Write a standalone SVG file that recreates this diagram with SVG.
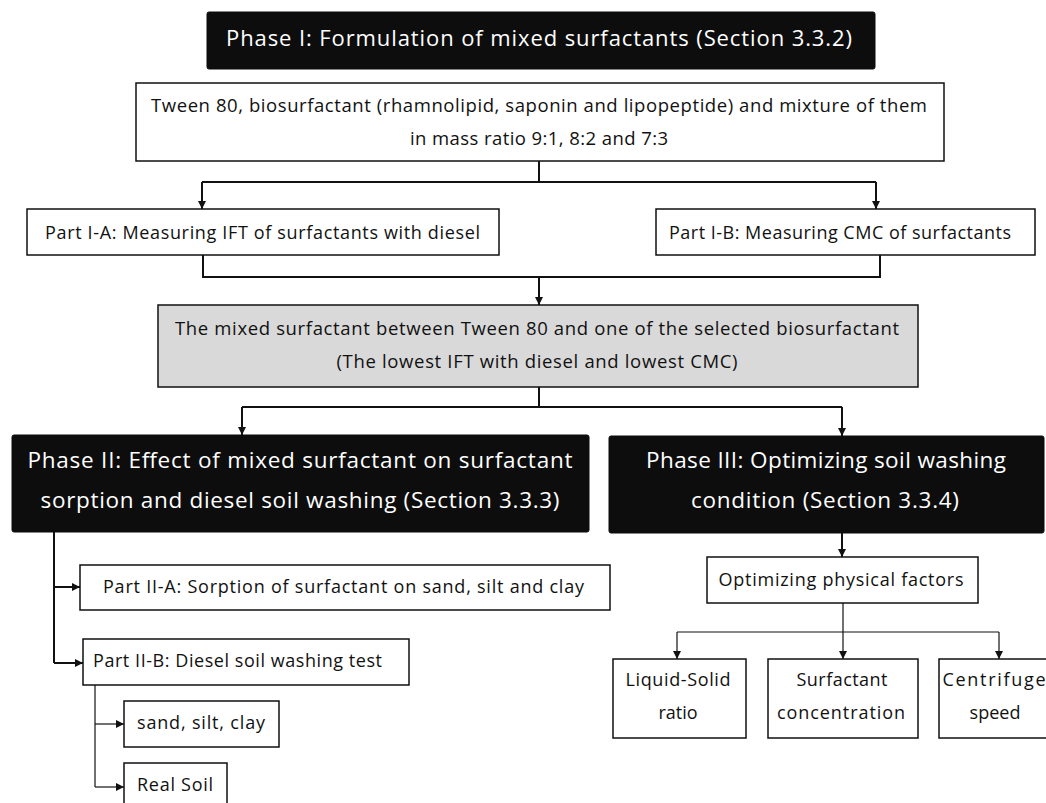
<svg xmlns="http://www.w3.org/2000/svg" width="1046" height="803" viewBox="0 0 1046 803">
<style>
text{font-family:"Open Sans","DejaVu Sans",sans-serif;fill:#111;text-anchor:middle}
.w{fill:#fff}
.box{fill:#fff;stroke:#111;stroke-width:1.5}
.dark{fill:#0d0d0d;stroke:#0d0d0d;stroke-width:1}
.grey{fill:#d9d9d9;stroke:#111;stroke-width:1.5}
.c{fill:none;stroke:#111;stroke-width:2}
.t{fill:none;stroke:#111;stroke-width:1.2}
.s{text-anchor:start}
</style>
<defs>
<marker id="ah" markerUnits="userSpaceOnUse" markerWidth="9" markerHeight="9" refX="8" refY="4" orient="auto"><path d="M0,0 L8,4 L0,8 z" fill="#111"/></marker>
</defs>
<rect width="1046" height="803" fill="#fff"/>
<g id="phase1">
<rect class="dark" x="207" y="12" width="668" height="57" rx="2"/>
<text class="w" x="539" y="46" font-size="22" textLength="626">Phase I: Formulation of mixed surfactants (Section 3.3.2)</text>
</g>
<g id="materials">
<rect class="box" x="136" y="83" width="808" height="78"/>
<text x="539" y="112" font-size="18.5" textLength="776">Tween 80, biosurfactant (rhamnolipid, saponin and lipopeptide) and mixture of them</text>
<text x="539" y="145" font-size="18.5" textLength="258">in mass ratio 9:1, 8:2 and 7:3</text>
</g>
<g id="partIA">
<rect class="box" x="27" y="209" width="472" height="46"/>
<text x="262.5" y="239" font-size="18" textLength="435">Part I-A: Measuring IFT of surfactants with diesel</text>
</g>
<g id="partIB">
<rect class="box" x="656" y="209" width="379" height="46"/>
<text x="840" y="239" font-size="18" textLength="342">Part I-B: Measuring CMC of surfactants</text>
</g>
<g id="mixed">
<rect class="grey" x="158" y="305" width="760" height="82"/>
<text x="537" y="335" font-size="18.5" textLength="724">The mixed surfactant between Tween 80 and one of the selected biosurfactant</text>
<text x="537" y="368" font-size="18.5" textLength="401">(The lowest IFT with diesel and lowest CMC)</text>
</g>
<g id="phase2">
<rect class="dark" x="12" y="435" width="577" height="97" rx="2"/>
<text class="w" x="300" y="468" font-size="22.5" textLength="545">Phase II: Effect of mixed surfactant on surfactant</text>
<text class="w" x="300" y="508" font-size="22.5" textLength="519">sorption and diesel soil washing (Section 3.3.3)</text>
</g>
<g id="phase3">
<rect class="dark" x="609" y="436" width="435" height="97" rx="2"/>
<text class="w" x="826" y="468" font-size="22.5" textLength="360">Phase III: Optimizing soil washing</text>
<text class="w" x="825" y="508" font-size="22.5" textLength="268">condition (Section 3.3.4)</text>
</g>
<g id="partIIA">
<rect class="box" x="80" y="565" width="530" height="45"/>
<text x="343.5" y="593" font-size="18" textLength="481">Part II-A: Sorption of surfactant on sand, silt and clay</text>
</g>
<g id="partIIB">
<rect class="box" x="83" y="639" width="326" height="46"/>
<text class="s" x="93" y="667" font-size="18" textLength="289">Part II-B: Diesel soil washing test</text>
</g>
<g id="sandsiltclay">
<rect class="box" x="124" y="701" width="155" height="46"/>
<text x="201" y="729" font-size="18" textLength="128">sand, silt, clay</text>
</g>
<g id="realsoil">
<rect class="box" x="124" y="763" width="103" height="50"/>
<text x="175" y="791" font-size="18" textLength="76">Real Soil</text>
</g>
<g id="physical">
<rect class="box" x="707" y="557" width="271" height="46"/>
<text x="841" y="586" font-size="18" textLength="245">Optimizing physical factors</text>
</g>
<g id="liquidsolid">
<rect class="box" x="613" y="659" width="133" height="79"/>
<text x="678" y="686" font-size="18" textLength="105">Liquid-Solid</text>
<text x="678" y="719" font-size="18">ratio</text>
</g>
<g id="concentration">
<rect class="box" x="768" y="659" width="150" height="79"/>
<text x="842" y="686" font-size="18" textLength="91">Surfactant</text>
<text x="841" y="719" font-size="18" textLength="128">concentration</text>
</g>
<g id="centrifuge">
<rect class="box" x="939" y="659" width="115" height="79"/>
<text x="994" y="686" font-size="18" textLength="103">Centrifuge</text>
<text x="995" y="719" font-size="18">speed</text>
</g>
<g id="connectors">
<path class="c" d="M539,161 V182 M202,182 H876"/>
<path class="c" d="M202,182 V209" marker-end="url(#ah)"/>
<path class="c" d="M876,182 V209" marker-end="url(#ah)"/>
<path class="c" d="M203,255 V277 H880 V255"/>
<path class="c" d="M539,277 V305" marker-end="url(#ah)"/>
<path class="c" d="M539,387 V407 M242,407 H842"/>
<path class="c" d="M242,407 V435" marker-end="url(#ah)"/>
<path class="c" d="M842,407 V436" marker-end="url(#ah)"/>
<path class="c" d="M54,532 V663"/>
<path class="c" d="M54,587 H80" marker-end="url(#ah)"/>
<path class="c" d="M54,663 H83" marker-end="url(#ah)"/>
<path class="t" d="M95,685 V787"/>
<path class="t" d="M95,724 H124" marker-end="url(#ah)"/>
<path class="t" d="M95,787 H124" marker-end="url(#ah)"/>
<path class="c" d="M842,533 V557" marker-end="url(#ah)"/>
<path class="t" d="M843,603 V659" marker-end="url(#ah)"/>
<path class="t" d="M677,632 H999"/>
<path class="t" d="M677,632 V659" marker-end="url(#ah)"/>
<path class="t" d="M999,632 V659" marker-end="url(#ah)"/>
</g>
</svg>
